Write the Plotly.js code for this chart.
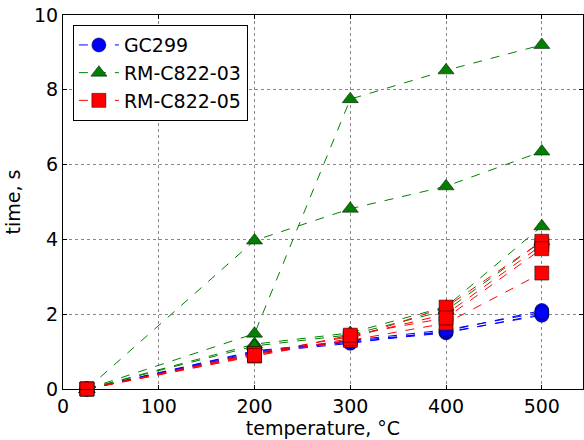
<!DOCTYPE html>
<html>
<head>
<meta charset="utf-8">
<script src="https://cdn.plot.ly/plotly-3.0.1.min.js"></script>
<style>html,body{margin:0;padding:0;background:#fff;}#chart{width:584px;height:440px;}</style>
</head>
<body>
<div id="chart"></div>
<script>
// temperatures (°C)
const temperatures = [25, 200, 300, 400, 500];

// GC299 runs (time, s)
const gc299Runs = [
  [0, 1.00, 1.25, 1.50, 2.00],
  [0, 0.97, 1.22, 1.55, 2.10],
  [0, 1.02, 1.28, 1.52, 1.97],
  [0, 0.95, 1.30, 1.58, 2.05]
];

// RM-C822-03 runs
const rm03Runs = [
  [0, 3.97, 4.82, 5.42, 6.35],
  [0, 1.48, 7.75, 8.52, 9.20],
  [0, 1.20, 1.50, 2.20, 4.35],
  [0, 1.15, 1.45, 2.10, 3.95]
];

// RM-C822-05 runs
const rm05Runs = [
  [0, 0.92, 1.30, 1.76, 3.10],
  [0, 0.95, 1.40, 2.00, 3.85],
  [0, 0.88, 1.35, 2.19, 3.95],
  [0, 0.90, 1.44, 1.90, 3.75]
];

const seriesNames = ["GC299", "RM-C822-03", "RM-C822-05"];

const groups = [
  {name: seriesNames[0], runs: gc299Runs, color: "#0000ff", symbol: "circle", size: 14},
  {name: seriesNames[1], runs: rm03Runs, color: "#007f00", symbol: "triangle-up", size: 14},
  {name: seriesNames[2], runs: rm05Runs, color: "#ff0000", symbol: "square", size: 14}
];

const traces = [];
groups.forEach(g => {
  g.runs.forEach((run, i) => {
    traces.push({
      x: temperatures, y: run, type: "scatter", mode: "lines+markers",
      name: g.name, legendgroup: g.name, showlegend: i === 0,
      line: {color: g.color, width: 1, dash: "dash"},
      marker: {color: g.color, symbol: g.symbol, size: g.size, line: {color: "#000", width: 0.5}},
      cliponaxis: false
    });
  });
});

const font = {family: "DejaVu Sans, sans-serif", size: 19, color: "#000"};

const layout = {
  width: 584, height: 440,
  margin: {l: 63, r: 1, t: 15, b: 51},
  paper_bgcolor: "#fff", plot_bgcolor: "#fff",
  font: font,
  showlegend: true,
  legend: {
    x: 0.019, y: 0.973, xanchor: "left", yanchor: "top",
    bgcolor: "#fff", bordercolor: "#000", borderwidth: 1,
    font: {family: "DejaVu Sans, sans-serif", size: 19, color: "#000"},
    tracegroupgap: 0, itemwidth: 40
  },
  xaxis: {
    range: [0, 543], tickvals: [0, 100, 200, 300, 400, 500],
    showgrid: true, gridcolor: "#888", griddash: "dot", gridwidth: 1,
    zeroline: false, showline: true, linecolor: "#000", linewidth: 1, mirror: "ticks",
    ticks: "inside", ticklen: 4, tickcolor: "#000",
    tickfont: font,
    title: {text: "temperature, °C", font: font, standoff: 4}
  },
  yaxis: {
    range: [0, 10], tickvals: [0, 2, 4, 6, 8, 10],
    showgrid: true, gridcolor: "#888", griddash: "dot", gridwidth: 1,
    zeroline: false, showline: true, linecolor: "#000", linewidth: 1, mirror: "ticks",
    ticks: "inside", ticklen: 4, tickcolor: "#000",
    tickfont: font,
    title: {text: "time, s", font: font, standoff: 8}
  }
};

Plotly.newPlot("chart", traces, layout, {displayModeBar: false, staticPlot: true});
</script>
</body>
</html>
